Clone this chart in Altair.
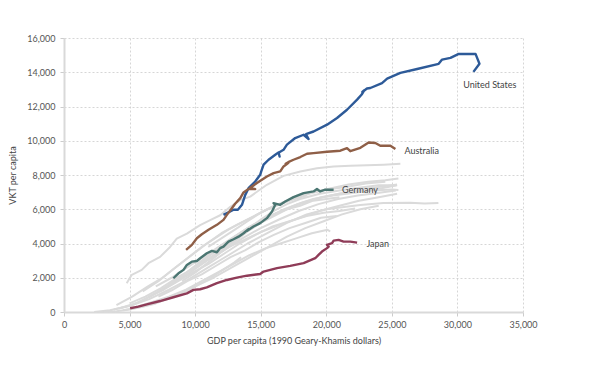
import altair as alt
import pandas as pd

# ---- highlighted series (GDP per capita, VKT per capita) ----
US_GDP = [12160, 12930, 13260, 13570, 13820, 14070, 14580, 14960, 15040, 15220, 15600, 16110, 16360, 16440, 16360,
          16740, 17000, 17630, 18270, 18650, 18450, 19030, 20060, 20820, 21580, 22350, 22700, 22900, 22750, 23100,
          23360, 24250, 24640, 25650, 26930, 28570, 28830, 29470, 30100, 31380, 31680, 31220]
US_VKT = [5670, 5970, 5970, 6260, 6840, 7230, 7620, 8010, 8210, 8600, 8890, 9180, 9320, 9080, 9300,
          9470, 9770, 10160, 10350, 10100, 10380, 10540, 10940, 11330, 11810, 12400, 12700, 12950, 12850, 13050,
          13080, 13370, 13630, 13960, 14190, 14490, 14740, 14840, 15070, 15070, 14500, 14020]

AUS_GDP = [9310, 9750, 10130, 10510, 11020, 11660, 12160, 12420, 12800, 13050, 13440, 13690, 14070, 14580, 14200,
           14710, 15090, 15470, 15980, 16490, 16740, 17100, 16900, 17100, 17500, 18020, 18530, 19030, 20060, 21070,
           21580, 21830, 22600, 23230, 23740, 24120, 24890, 25270]
AUS_VKT = [3630, 3920, 4310, 4540, 4800, 5090, 5380, 5670, 6060, 6320, 6650, 6980, 7190, 7180, 7250,
           7530, 7720, 7910, 8110, 8210, 8500, 8700, 8650, 8750, 8890, 9050, 9240, 9280, 9360, 9420,
           9570, 9390, 9590, 9900, 9870, 9710, 9710, 9520]

GER_GDP = [8340, 8730, 9110, 9370, 9750, 10130, 10380, 10890, 11280, 11660, 11910, 12160, 12540, 12930, 13310,
           13690, 14070, 13970, 14450, 14960, 15470, 15860, 16110, 15980, 16490, 16870, 17500, 18270, 19030, 19290,
           19540, 19930, 20560]
GER_VKT = [1970, 2260, 2460, 2750, 2940, 2980, 3140, 3430, 3570, 3490, 3730, 3820, 4110, 4250, 4400,
           4600, 4840, 4740, 4990, 5190, 5480, 5870, 6260, 6360, 6260, 6450, 6710, 6940, 7040, 7180,
           7040, 7140, 7140]

JPN_GDP = [5040, 5670, 6310, 7330, 8340, 9370, 9870, 10380, 10890, 11660, 12420, 13180, 13950, 14960, 15220,
           16240, 17250, 18270, 19160, 19410, 19670, 20060, 20180, 20060, 20440, 20560, 20940, 21320, 21830, 22350]
JPN_VKT = [220, 310, 450, 640, 860, 1090, 1290, 1330, 1440, 1680, 1870, 2010, 2120, 2220, 2360,
           2560, 2690, 2850, 3140, 3330, 3530, 3730, 3820, 3920, 4020, 4170, 4210, 4110, 4110, 4050]

# ---- other countries (grey) ----
GREY_GDP = [
    [4780, 5170, 5930, 6440, 7330, 8090, 8600, 9370, 10380, 11150, 11910, 12680, 13440, 14200, 15470, 16740, 18020, 19290, 20560, 21830, 24370, 25650],
    [2300, 3500, 5000, 6500, 8000, 9500, 11000, 12500, 14000, 15500, 17000, 18500, 20000, 21500, 22600, 24350, 26400, 27500, 28550],
    [3800, 5200, 6600, 7800, 9000, 10200, 11500, 12800, 14100, 15400, 16800, 18200, 19600, 21000, 22500, 24000, 25400],
    [4200, 5600, 7000, 8400, 9600, 10900, 12200, 13600, 15000, 16400, 17900, 19400, 20900, 22400, 23900, 25300],
    [5000, 6200, 7400, 8600, 9800, 11000, 12300, 13700, 15100, 16500, 18000, 19500, 21000, 22500, 24000, 25400],
    [6000, 7200, 8500, 9700, 10900, 12000, 13200, 14500, 15800, 17200, 18700, 20200, 21700, 23200, 24500, 25500],
    [7000, 8200, 9400, 10600, 11800, 13000, 14200, 15400, 16600, 17800, 19000, 20500, 22000, 23500, 25000, 25500],
    [5500, 6800, 8000, 9300, 10500, 11700, 12900, 14100, 15300, 16500, 17700, 18900, 20100, 20300],
    [4500, 5800, 7200, 8600, 10000, 11400, 12800, 14200, 15600, 17000, 18400, 19800, 21200, 22600, 24000],
    [6500, 7600, 8700, 9800, 11000, 12200, 13400, 14600, 15900, 17200, 18500, 19800, 21000, 22200],
    [8000, 9000, 10000, 11000, 12000, 13000, 14000, 15000, 16000, 17000, 18000, 19000, 20000, 21500, 23000, 24500, 25400],
    [4000, 5200, 6400, 7500, 8500, 9500, 10500, 11500, 12500, 13500, 14500, 15500, 16500, 17500, 18500],
    [7200, 8300, 9400, 10500, 11600, 12700, 13800, 14900, 16000, 17200, 18400, 19600, 20800],
    [9000, 10000, 11000, 12000, 13000, 14000, 15000, 16000, 17000, 18000, 19000, 20000, 21000],
    [10000, 11000, 12000, 13000, 14000, 15000, 16000, 17000, 18000, 19500, 21000, 22500, 24000, 25300],
    [3000, 4000, 5000, 6000, 7000, 8000, 9000, 10000, 11000, 12000, 13000, 13500],
    [11000, 12000, 13000, 14000, 15000, 16000, 17000, 18000, 19000, 20000, 21500, 23000, 24500],
]
GREY_VKT = [
    [1680, 2170, 2460, 2850, 3220, 3800, 4290, 4580, 5070, 5360, 5650, 6140, 6530, 6740, 7430, 7950, 8200, 8400, 8490, 8540, 8600, 8650],
    [0, 100, 350, 750, 1300, 1900, 2600, 3300, 4000, 4600, 5200, 5700, 6000, 6150, 6250, 6360, 6380, 6330, 6370],
    [150, 400, 900, 1500, 2100, 2800, 3500, 4200, 4900, 5500, 6000, 6400, 6700, 6900, 7050, 7200, 7400],
    [200, 550, 1100, 1700, 2300, 3000, 3600, 4300, 4900, 5400, 5900, 6300, 6600, 6800, 6950, 7100],
    [500, 900, 1400, 2000, 2500, 3100, 3700, 4200, 4700, 5100, 5500, 5900, 6200, 6500, 6700, 6900],
    [1200, 1800, 2600, 3300, 4000, 4600, 5100, 5600, 6100, 6500, 6900, 7200, 7450, 7600, 7700, 7800],
    [1500, 2000, 2600, 3200, 3800, 4400, 5000, 5500, 5900, 6300, 6600, 6800, 6950, 7100, 7150, 7130],
    [300, 600, 900, 1300, 1800, 2300, 2800, 3300, 3700, 4000, 4300, 4600, 4800, 4700],
    [100, 300, 600, 1000, 1500, 2000, 2600, 3200, 3800, 4400, 4900, 5300, 5700, 6000, 6200],
    [900, 1300, 1800, 2300, 2800, 3400, 4000, 4500, 5000, 5300, 5600, 5800, 5900, 6050],
    [1600, 2100, 2700, 3300, 3900, 4400, 4900, 5300, 5700, 6000, 6300, 6550, 6750, 7000, 7200, 7350, 7450],
    [400, 900, 1500, 2000, 2600, 3200, 3800, 4300, 4800, 5200, 5600, 6000, 6300, 6600, 6800],
    [900, 1300, 1800, 2200, 2700, 3200, 3600, 4100, 4500, 4900, 5200, 5500, 5600],
    [1800, 2300, 2900, 3500, 4100, 4700, 5200, 5600, 6000, 6200, 6500, 6600, 6700],
    [2600, 3100, 3600, 4200, 4800, 5400, 5900, 6300, 6600, 6900, 7100, 7250, 7400, 7400],
    [0, 50, 150, 300, 500, 800, 1100, 1500, 1900, 2400, 2900, 3200],
    [3800, 4300, 4800, 5300, 5800, 6200, 6500, 6800, 7000, 7150, 7300, 7500, 7600],
]

LABELS = ["United States", "Australia", "Germany", "Japan"]
LABEL_GDP = [30440, 25960, 21200, 23060]
LABEL_VKT = [13270, 9430, 7135, 3980]
COLORS = ["#2d5a98", "#8f5f47", "#4b7672", "#8f3c58"]

X_TICKS = list(range(0, 35001, 5000))
Y_TICKS = list(range(0, 16001, 2000))

rows = []
for k, (gx, gy) in enumerate(zip(GREY_GDP, GREY_VKT)):
    for i, (a, b) in enumerate(zip(gx, gy)):
        rows.append({"series": f"g{k}", "i": i, "gdp": a, "vkt": b})
grey_df = pd.DataFrame(rows)

rows = []
for name, gx, gy in [("United States", US_GDP, US_VKT), ("Australia", AUS_GDP, AUS_VKT),
                     ("Germany", GER_GDP, GER_VKT), ("Japan", JPN_GDP, JPN_VKT)]:
    for i, (a, b) in enumerate(zip(gx, gy)):
        rows.append({"series": name, "i": i, "gdp": a, "vkt": b})
hi_df = pd.DataFrame(rows)

lab_df = pd.DataFrame({"series": LABELS, "gdp": LABEL_GDP, "vkt": LABEL_VKT})

FONT = "Lato"
x_enc = alt.X("gdp:Q", scale=alt.Scale(domain=[0, 35000], nice=False),
              axis=alt.Axis(title="GDP per capita (1990 Geary-Khamis dollars)",
                            values=X_TICKS, format=",d", labelOverlap=False, labelFlush=False))
y_enc = alt.Y("vkt:Q", scale=alt.Scale(domain=[0, 16000], nice=False),
              axis=alt.Axis(title="VKT per capita", values=Y_TICKS, format=",d",
                            titlePadding=9, labelOverlap=False, labelFlush=False))

grey = alt.Chart(grey_df).mark_line(strokeWidth=2, color="#dadada", strokeJoin="round").encode(
    x=x_enc, y=y_enc, detail="series:N", order="i:Q")

hi = alt.Chart(hi_df).mark_line(strokeWidth=2.4, strokeJoin="round").encode(
    x=x_enc, y=y_enc, order="i:Q",
    color=alt.Color("series:N", scale=alt.Scale(domain=LABELS, range=COLORS), legend=None))

labels = alt.Chart(lab_df).mark_text(align="left", baseline="middle", fontSize=9, font=FONT,
                                     color="#444444").encode(
    x=x_enc, y=y_enc, text="series:N")

chart = alt.layer(grey, hi, labels).properties(
    width=459, height=274,
    autosize=alt.AutoSizeParams(type="none"),
    padding={"left": 56, "top": 30, "right": 69, "bottom": 45},
).configure_view(stroke=None).configure_axis(
    labelFont=FONT, titleFont=FONT, labelFontSize=9, titleFontSize=9,
    labelColor="#555555", titleColor="#444444", titleFontWeight="normal",
    grid=True, gridColor="#cccccc", gridDash=[2, 2], gridWidth=0.8,
    domainColor="#d9d9d9", domainWidth=2,
    tickColor="#cccccc", tickSize=4, labelPadding=4,
).configure_axisX(titlePadding=7).configure_axisY(labelPadding=5)

chart.save("out.html", embed_options={"renderer": "svg", "actions": False})
